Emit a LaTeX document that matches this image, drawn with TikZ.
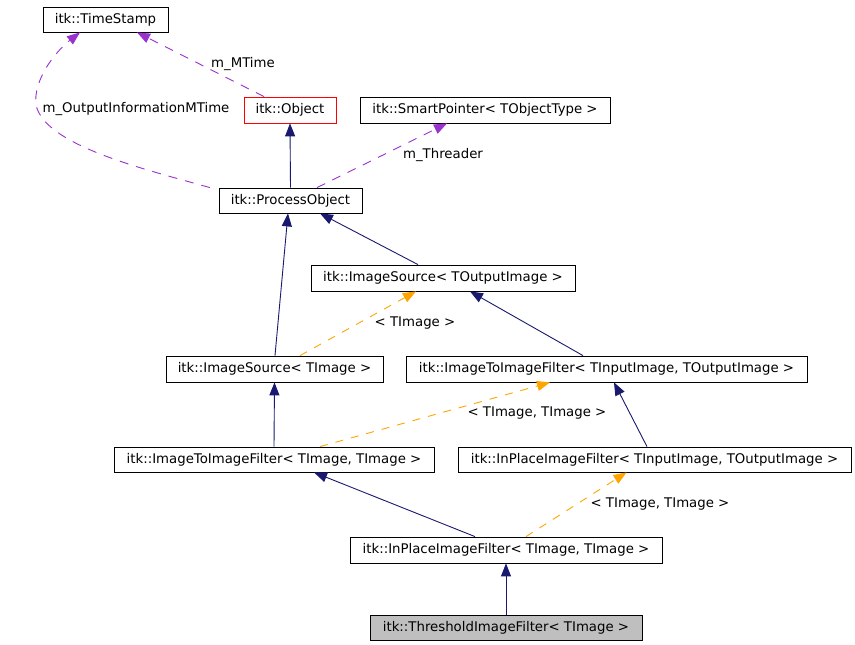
\documentclass[tikz,border=0pt]{standalone}
\usepackage{fontspec}
\setmainfont{DejaVu Sans}
\usetikzlibrary{arrows.meta,calc}
\definecolor{navy}{HTML}{191970}
\definecolor{purp}{HTML}{9A32CD}
\definecolor{orng}{HTML}{FFA500}
\definecolor{grayfill}{HTML}{BFBFBF}
\begin{document}
\begin{tikzpicture}[x=1pt,y=-1pt,
  cls/.style={draw=black, line width=0.8pt, inner sep=0pt, fill=white, font=\fontsize{13.3}{15}\selectfont},
  lbl/.style={inner sep=0pt, font=\fontsize{13.3}{15}\selectfont},
  tip/.style={-{Triangle[length=13pt,width=10pt]}},
  inh/.style={draw=navy, line width=0.9pt, tip},
  tmpl/.style={draw=orng, line width=0.9pt, dash pattern=on 8pt off 8pt, tip},
  usage/.style={draw=purp, line width=0.9pt, dash pattern=on 9pt off 8pt, tip}]
\fill[white] (0,0) rectangle (855,645);
\useasboundingbox (0,0) rectangle (855,645);

\node[cls, minimum width=125pt, minimum height=25pt] (ts) at (105.5,19.5) {itk::TimeStamp};
\node[cls, draw=red, minimum width=92pt, minimum height=26pt] (obj) at (290,110) {itk::Object};
\node[cls, minimum width=250pt, minimum height=26pt] (sp) at (485,110) {itk::SmartPointer< TObjectType >};
\node[cls, minimum width=143pt, minimum height=25pt] (po) at (290.5,200.5) {itk::ProcessObject};
\node[cls, minimum width=264pt, minimum height=26pt] (isOut) at (443,278) {itk::ImageSource< TOutputImage >};
\node[cls, minimum width=217pt, minimum height=26pt] (isImg) at (274.5,369) {itk::ImageSource< TImage >};
\node[cls, minimum width=401pt, minimum height=26pt] (itiIO) at (606.5,369) {itk::ImageToImageFilter< TInputImage, TOutputImage >};
\node[cls, minimum width=320pt, minimum height=25pt] (itiTT) at (274,459.5) {itk::ImageToImageFilter< TImage, TImage >};
\node[cls, minimum width=393pt, minimum height=25pt] (ipIO) at (654.5,459.5) {itk::InPlaceImageFilter< TInputImage, TOutputImage >};
\node[cls, minimum width=312pt, minimum height=26pt] (ipTT) at (506,550) {itk::InPlaceImageFilter< TImage, TImage >};
\node[cls, fill=grayfill, minimum width=272pt, minimum height=25pt] (thr) at (506,627.5) {itk::ThresholdImageFilter< TImage >};

\node[lbl] (lmt) at (243,64) {m\_MTime};
\node[lbl] (loim) at (136,109) {m\_OutputInformationMTime};
\node[lbl] (lthr) at (443,155) {m\_Threader};
\node[lbl] (lt1) at (415,323) {< TImage >};
\node[lbl] (lt2) at (537,413) {< TImage, TImage >};
\node[lbl] (lt3) at (660,504) {< TImage, TImage >};

\draw[inh] (po.north) -- (obj.south);
\draw[inh] ($(isOut.north)+(-25,0)$) -- ($(po.south)+(29.5,0)$);
\draw[inh] ($(isImg.north)+(0.5,0)$) -- ($(po.south)+(-2.5,0)$);
\draw[inh] ($(itiIO.north)+(-23.5,0)$) -- ($(isOut.south)+(27,0)$);
\draw[inh] (itiTT.north) -- (isImg.south);
\draw[inh] ($(ipIO.north)+(-7.5,0)$) -- ($(itiIO.south)+(7.5,0)$);
\draw[inh] ($(ipTT.north)+(-31,0)$) -- ($(itiTT.south)+(40,0)$);
\draw[inh] (thr.north) -- (ipTT.south);

\draw[tmpl] ($(isImg.north)+(25.5,0)$) -- ($(isOut.south)+(-27,0)$);
\draw[tmpl] ($(itiTT.north)+(46,0)$) -- ($(itiIO.south)+(-56.5,0)$);
\draw[tmpl] ($(ipTT.north)+(20,0)$) -- ($(ipIO.south)+(-28,0)$);

\draw[usage] ($(obj.north)+(-26,0)$) -- ($(ts.south)+(31.5,0)$);
\draw[usage] ($(po.north)+(26.5,0)$) -- ($(sp.south)+(-38,0)$);
\draw[usage] ($(po.north)+(-80.5,0)$) .. controls (140,168) and (45,145) .. (36,105)
  .. controls (33,80) and (55,52) .. ($(ts.south)+(-25.5,0)$);
\end{tikzpicture}
\end{document}
